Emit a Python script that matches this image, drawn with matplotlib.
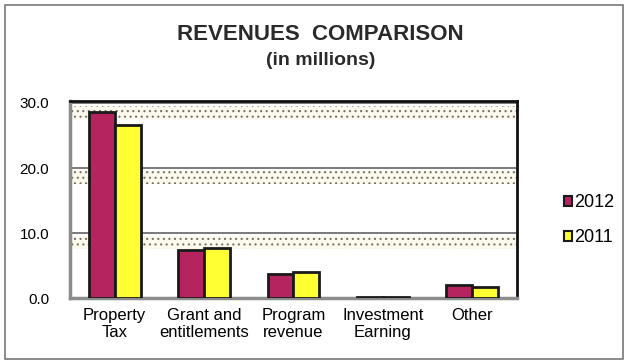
import numpy as np
import matplotlib.pyplot as plt
from matplotlib.patches import Rectangle

plt.rcParams['font.family'] = ['Liberation Sans', 'DejaVu Sans']
plt.rcParams['hatch.linewidth'] = 0.8

categories = ['Property\nTax', 'Grant and\nentitlements', 'Program\nrevenue',
              'Investment\nEarning', 'Other']
rev_2012 = [28.6, 7.4, 3.7, 0.1, 2.0]
rev_2011 = [26.6, 7.7, 4.0, 0.1, 1.7]
yticks = [0.0, 10.0, 20.0, 30.0]

fig = plt.figure(figsize=(6.28, 3.64), dpi=100)
ax = fig.add_axes([0.1115, 0.181, 0.7115, 0.5415])

# dotted bands just under each gridline
for g in yticks[1:]:
    ax.axhspan(g - 2.5, g - 0.5, facecolor='#fcf9ee', edgecolor='#7a7263',
               hatch='...', linewidth=0, zorder=0)
    ax.axhline(g, color='#707070', lw=1.3, zorder=1)

x = np.arange(len(categories))
w = 0.29
ax.bar(x - w / 2, rev_2012, w, color='#b5245f', edgecolor='#1a1a1a',
       linewidth=2, label='2012', zorder=3)
ax.bar(x + w / 2, rev_2011, w, color='#ffff33', edgecolor='#1a1a1a',
       linewidth=2, label='2011', zorder=3)

ax.set_xlim(-0.5, 4.5)
ax.set_ylim(0, 30.3)
ax.set_yticks(yticks)
ax.set_yticklabels(['%.1f' % t for t in yticks], fontsize=11)
ax.set_xticks(x)
ax.set_xticklabels(categories, fontsize=12, linespacing=1.2)
ax.tick_params(length=0, pad=7)
ax.tick_params(axis='y', pad=15)

for side in ['left', 'bottom']:
    ax.spines[side].set_color('#8c8c8c')
    ax.spines[side].set_linewidth(2.5)
for side in ['top', 'right']:
    ax.spines[side].set_color('#111111')
    ax.spines[side].set_linewidth(2)

fig.text(0.51, 0.905, 'REVENUES  COMPARISON', ha='center', va='center',
         fontsize=16, fontweight='bold', color='#2a2a2a')
fig.text(0.51, 0.835, '(in millions)', ha='center', va='center',
         fontsize=14, fontweight='bold', color='#2a2a2a')

leg = fig.legend(loc='center left', bbox_to_anchor=(0.872, 0.395), frameon=False,
                 fontsize=13, handlelength=0.45, handleheight=0.45,
                 handletextpad=0.1, labelspacing=1.0)
for h in leg.legend_handles:
    h.set_linewidth(1.5)

# outer border
fig.patches.append(Rectangle((0.008, 0.015), 0.984, 0.97, transform=fig.transFigure,
                             fill=False, edgecolor='#777777', linewidth=1.2))

fig.savefig('out.png', dpi=100)
